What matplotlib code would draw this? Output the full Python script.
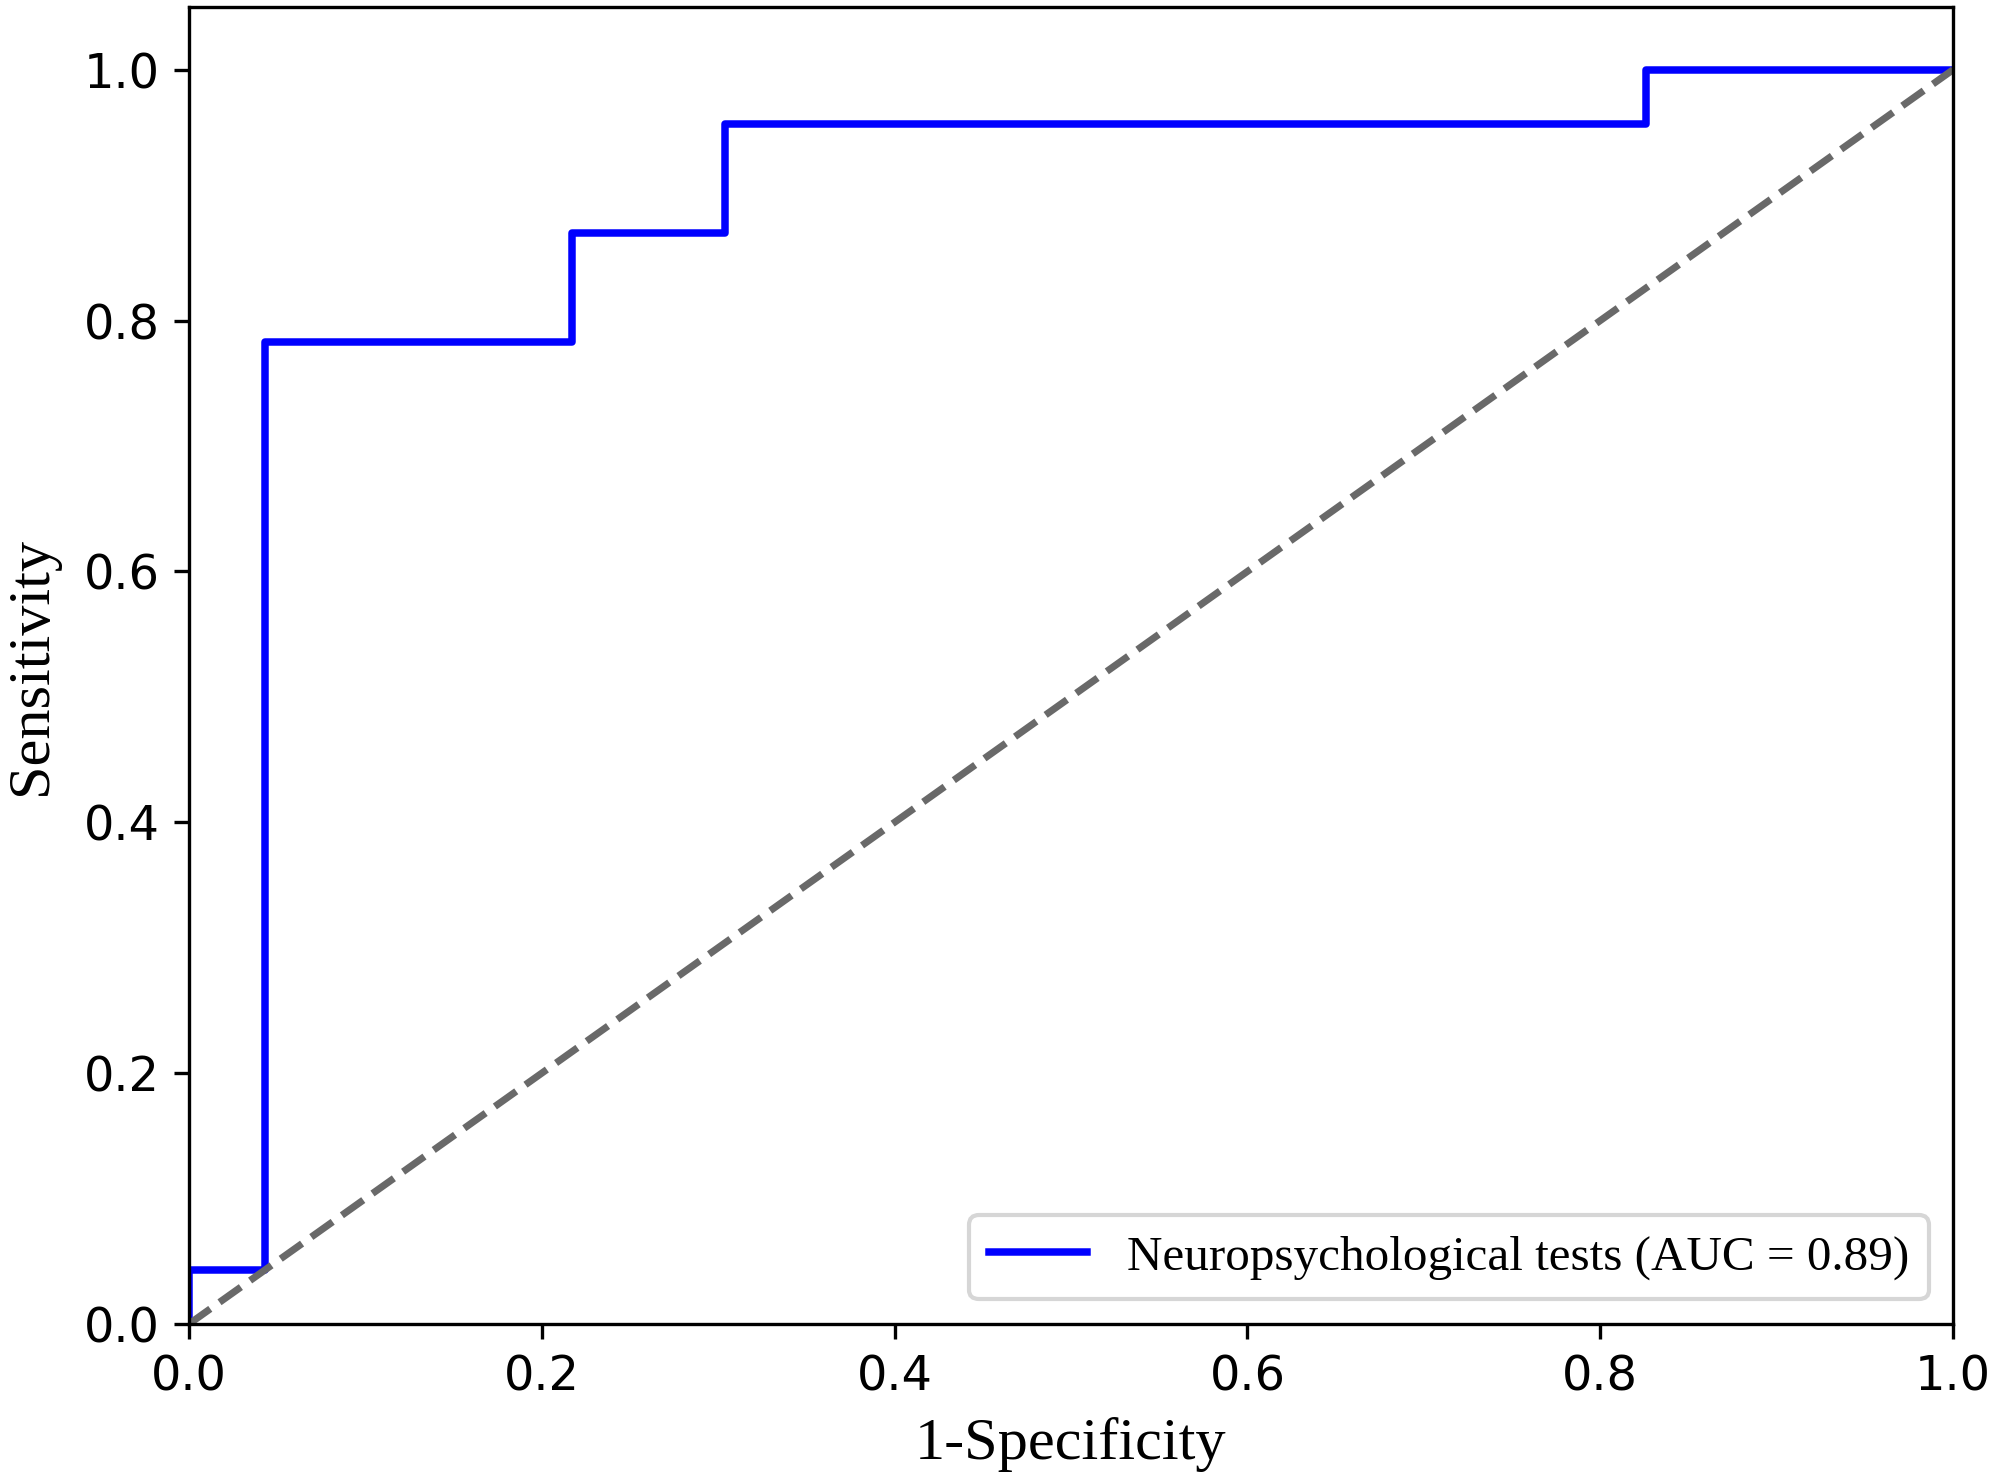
"""
ROC curve for the neuropsychological tests model
"""

import matplotlib
matplotlib.use('Agg')
import matplotlib.pyplot as plt

# ROC points (1-specificity, sensitivity)
fpr = [0.0, 0.0, 0.043, 0.043, 0.217, 0.217, 0.304, 0.304, 0.826, 0.826, 1.0]
tpr = [0.0, 0.043, 0.043, 0.783, 0.783, 0.870, 0.870, 0.957, 0.957, 1.0, 1.0]
auc_value = 0.89
curve_label = 'Neuropsychological tests'

chance_x = [0.0, 1.0]
chance_y = [0.0, 1.0]

ticks = [0.0, 0.2, 0.4, 0.6, 0.8, 1.0]

serif = ['Liberation Serif', 'DejaVu Serif']

fig = plt.figure(figsize=(1995 / 300, 1483 / 300), dpi=300)
ax = fig.add_axes([0.0947, 0.1072, 0.979 - 0.0947, 0.9953 - 0.1072])

ax.plot(fpr, tpr, color='blue', lw=1.8,
        label=f'{curve_label} (AUC = {auc_value:.2f})')
ax.plot(chance_x, chance_y, color='dimgray', lw=1.7, linestyle='--')

ax.set_xlim(0, 1)
ax.set_ylim(0, 1.05)
ax.set_xticks(ticks)
ax.set_yticks(ticks)
ax.tick_params(labelsize=11.5)

ax.set_xlabel('1-Specificity', fontsize=14.5, family=serif, labelpad=4)
ax.set_ylabel('Sensitivity', fontsize=14.5, family=serif, labelpad=6)

ax.legend(loc='lower right', prop={'family': serif, 'size': 11.8})

plt.savefig('out.png', dpi=300, facecolor='white')
plt.close()
